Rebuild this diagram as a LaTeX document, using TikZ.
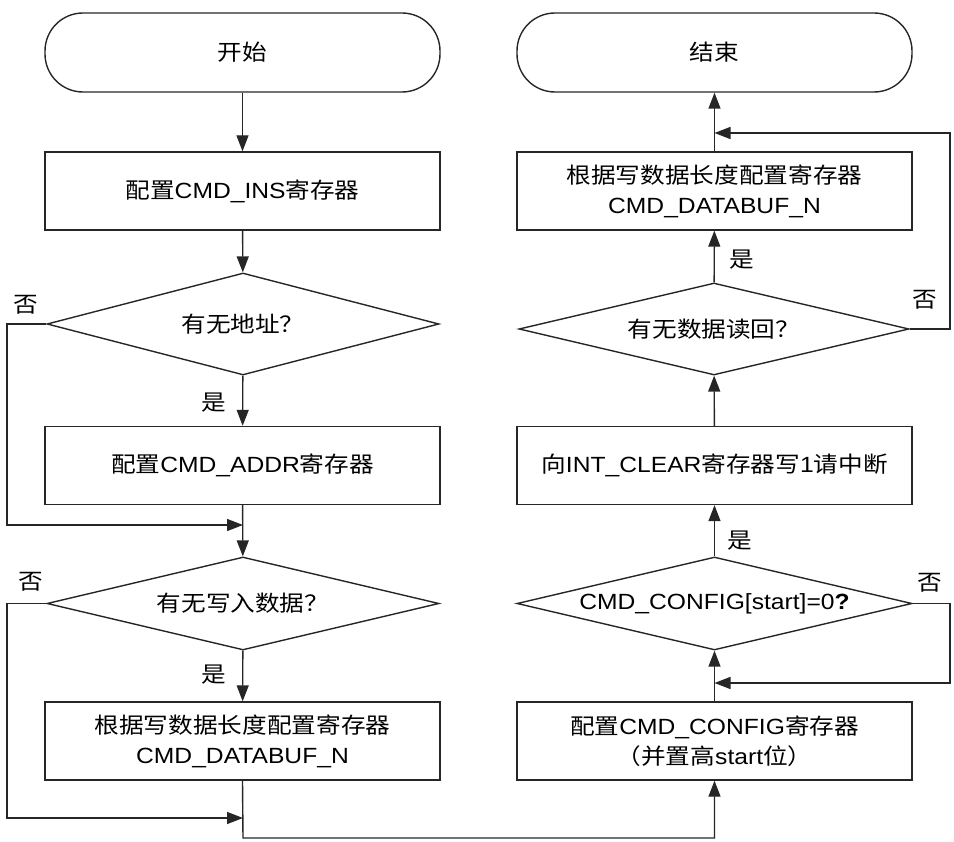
\documentclass[tikz,border=0pt]{standalone}
\usepackage{fontspec}
\setmainfont[FakeStretch=1.12]{Liberation Sans}
\newfontfamily\cjk[FakeStretch=1.12]{Noto Sans CJK SC}
\newcommand\zh[1]{{\cjk #1}}
\usetikzlibrary{shapes.geometric,arrows.meta}
\begin{document}
\begin{tikzpicture}[x=1pt,y=-1pt,
  every node/.style={font=\fontsize{22}{30}\selectfont},
  line/.style={draw=black!85, line width=1.4pt},
  term/.style={line, rounded corners=38pt, minimum width=395pt, minimum height=79pt, inner sep=0pt},
  proc/.style={line, minimum width=395pt, minimum height=78pt, inner sep=0pt, align=center},
  dec/.style={line, diamond, inner sep=0pt},
  conn/.style={line, -{Triangle[length=16pt,width=12pt]}},
  lbl/.style={inner sep=0pt}]
\useasboundingbox (0,0) rectangle (954,842);
% left column
\node[term] (start) at (242.5,52.5) {\zh{开始}};
\node[proc] (ins) at (242.5,191) {\zh{配置}CMD\_INS\zh{寄存器}};
\node[dec, aspect=3.8, minimum width=392pt, minimum height=102pt] (d1) at (243,324) {\zh{有无地址？}};
\node[proc] (addr) at (242.5,465.5) {\zh{配置}CMD\_ADDR\zh{寄存器}};
\node[dec, aspect=4.2, minimum width=392pt, minimum height=93pt] (d2) at (243,603.5) {\zh{有无写入数据？}};
\node[proc] (buf) at (242.5,741) {\zh{根据写数据长度配置寄存器}\\CMD\_DATABUF\_N};
% right column
\node[term] (end) at (714.5,52.5) {\zh{结束}};
\node[proc] (rbuf) at (714.5,191) {\zh{根据写数据长度配置寄存器}\\CMD\_DATABUF\_N};
\node[dec, aspect=4.2, minimum width=390pt, minimum height=92pt] (d4) at (714,329) {\zh{有无数据读回？}};
\node[proc] (clr) at (714.5,465.5) {\zh{向}INT\_CLEAR\zh{寄存器写}1\zh{请中断}};
\node[dec, aspect=4.25, minimum width=395pt, minimum height=93pt] (d3) at (714.5,603.5) {CMD\_CONFIG[start]=0\textbf{?}};
\node[proc] (cfg) at (714.5,741) {\zh{配置}CMD\_CONFIG\zh{寄存器}\\\zh{（并置高}start\zh{位）}};
% junction coordinates
\coordinate (m1) at (243,525);
\coordinate (m2) at (243,818);
\coordinate (m3) at (714.5,683);
\coordinate (m4) at (714.5,133);
\coordinate (l1) at (7,324);
\coordinate (l1b) at (7,525);
\coordinate (l2) at (7,603.5);
\coordinate (l2b) at (7,818);
\coordinate (b1) at (243,838);
\coordinate (b2) at (714.5,838);
\coordinate (r1) at (950,603.5);
\coordinate (r1b) at (950,683);
\coordinate (r2) at (950,329);
\coordinate (r2b) at (950,133);
% connectors
\draw[conn] (start) -- (ins);
\draw[conn] (ins) -- (d1);
\draw[conn] (d1) -- (addr);
\draw[conn] (d1.west) -- (l1) -- (l1b) -- (m1);
\draw[conn] (addr) -- (d2);
\draw[conn] (d2) -- (buf);
\draw[conn] (d2.west) -- (l2) -- (l2b) -- (m2);
\draw[conn] (buf.south) -- (b1) -- (b2) -- (cfg.south);
\draw[conn] (cfg) -- (d3);
\draw[conn] (d3) -- (clr);
\draw[conn] (d3.east) -- (r1) -- (r1b) -- (m3);
\draw[conn] (clr) -- (d4);
\draw[conn] (d4) -- (rbuf);
\draw[conn] (d4.east) -- (r2) -- (r2b) -- (m4);
\draw[conn] (rbuf) -- (end);
% labels
\node[lbl] (y1) at (214,403) {\zh{是}};
\node[lbl] (n1) at (26,305) {\zh{否}};
\node[lbl] (y2) at (214,675) {\zh{是}};
\node[lbl] (n2) at (31,582) {\zh{否}};
\node[lbl] (y3) at (740,541) {\zh{是}};
\node[lbl] (n3) at (930,583) {\zh{否}};
\node[lbl] (y4) at (742,260) {\zh{是}};
\node[lbl] (n4) at (925,300) {\zh{否}};
\end{tikzpicture}
\end{document}
